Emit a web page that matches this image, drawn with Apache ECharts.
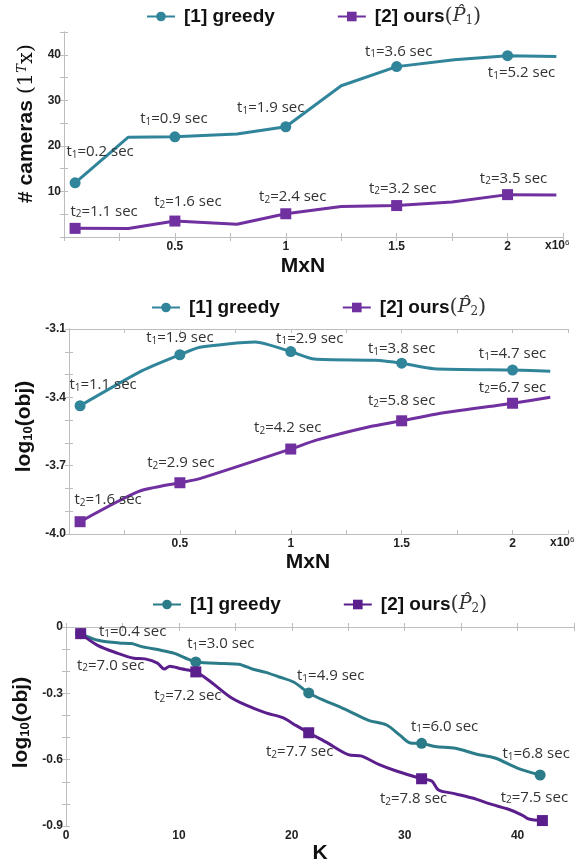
<!DOCTYPE html>
<html>
<head>
<meta charset="utf-8">
<script src="https://cdn.jsdelivr.net/npm/echarts@6/dist/echarts.min.js"></script>
<style>
  html, body { margin: 0; padding: 0; background: #fff; }
  #chart { width: 578px; height: 865px; }
</style>
</head>
<body>
<div id="chart"></div>
<script>
// panel 1: # cameras vs MxN
const greedy1X = [0.05, 0.29, 0.5, 0.78, 1.0, 1.25, 1.5, 1.76, 2.0, 2.22]
const greedy1Y = [11.9, 21.9, 22.0, 22.6, 24.2, 33.2, 37.4, 38.9, 39.8, 39.6]
const greedy1Marks = [0, 2, 4, 6, 8]
const greedy1Times = ['0.2', '0.9', '1.9', '3.6', '5.2']
const ours1X = [0.05, 0.29, 0.5, 0.78, 1.0, 1.25, 1.5, 1.75, 2.0, 2.22]
const ours1Y = [1.9, 1.85, 3.5, 2.8, 5.1, 6.7, 6.9, 7.7, 9.3, 9.2]
const ours1Marks = [0, 2, 4, 6, 8]
const ours1Times = ['1.1', '1.6', '2.4', '3.2', '3.5']

// panel 2: log10(obj) vs MxN
const greedy2X = [0.05, 0.33, 0.5, 0.59, 0.84, 1.0, 1.106, 1.38, 1.5, 1.645, 2.0, 2.17]
const greedy2Y = [-3.437, -3.283, -3.213, -3.18, -3.157, -3.199, -3.232, -3.237, -3.25, -3.274, -3.28, -3.285]
const greedy2Marks = [0, 2, 5, 8, 10]
const greedy2Times = ['1.1', '1.9', '2.9', '3.8', '4.7']
const ours2X = [0.05, 0.315, 0.5, 0.59, 1.0, 1.115, 1.35, 1.5, 1.645, 2.0, 2.17]
const ours2Y = [-3.946, -3.813, -3.775, -3.757, -3.627, -3.588, -3.53, -3.503, -3.475, -3.426, -3.4]
const ours2Marks = [0, 2, 4, 7, 9]
const ours2Times = ['1.6', '2.9', '4.2', '5.8', '6.7']

// panel 3: log10(obj) vs K
const greedy3X = [1.3, 2.8, 4.7, 5.8, 6.8, 8.4, 9.6, 10.8, 11.5, 14.0, 15.3, 16.5, 17.7, 18.9, 20.2, 21.5, 23.0, 24.2, 25.1, 26.8, 28.4, 29.6, 30.5, 31.5, 32.7, 34.5, 36.3, 38.0, 40.1, 42.0]
const greedy3Y = [-0.03, -0.06, -0.072, -0.075, -0.09, -0.105, -0.119, -0.145, -0.158, -0.165, -0.168, -0.19, -0.205, -0.226, -0.25, -0.298, -0.335, -0.36, -0.381, -0.422, -0.443, -0.49, -0.524, -0.526, -0.54, -0.548, -0.574, -0.592, -0.64, -0.669]
const greedy3Marks = [0, 8, 15, 23, 29]
const greedy3Times = ['0.4', '3.0', '4.9', '6.0', '6.8']
const ours3X = [1.3, 2.8, 4.6, 6.0, 7.0, 8.1, 8.7, 9.2, 10.2, 11.5, 12.7, 14.5, 15.9, 17.7, 19.2, 20.4, 21.5, 23.0, 25.0, 26.2, 27.7, 29.2, 31.5, 32.4, 33.0, 34.2, 36.0, 37.7, 39.2, 40.4, 41.0, 42.2]
const ours3Y = [-0.03, -0.083, -0.119, -0.141, -0.144, -0.163, -0.19, -0.177, -0.189, -0.203, -0.243, -0.315, -0.352, -0.388, -0.41, -0.446, -0.478, -0.519, -0.577, -0.584, -0.621, -0.65, -0.686, -0.696, -0.737, -0.751, -0.773, -0.802, -0.824, -0.85, -0.868, -0.875]
const ours3Marks = [0, 9, 16, 22, 31]
const ours3Times = ['7.0', '7.2', '7.7', '7.8', '7.5']

// tick labels shown on each axis
const xTicks1 = [0.5, 1, 1.5, 2]
const yTicks1 = [10, 20, 30, 40]
const xTicks2 = [0.5, 1, 1.5, 2]
const yTicks2 = [-3.1, -3.4, -3.7, -4.0]
const xTicks3 = [0, 10, 20, 30, 40]
const yTicks3 = [0, -0.3, -0.6, -0.9]

// label offsets (px) for the time annotations
const offG1 = [[25, -31], [-1, -18], [-15, -19], [2, -15], [14, 17]]
const offO1 = [[29, -17], [13, -19], [7, -17], [6, -17], [6, -16]]
const offG2 = [[23, -21], [0, -17], [19, -13], [0, -14], [0, -16]]
const offO2 = [[28, -22], [1, -20], [-3, -21], [0, -20], [0, -16]]
const offG3 = [[52, -2], [25, -18], [22, -17], [23, -17], [-4, -21]]
const offO3 = [[30, 32], [-8, 24], [-9, 19], [-8, 20], [-8, -23]]

const TEAL = '#31859b'
const PURPLE = '#7030a0'
const TEAL3 = '#2b7c88'
const PURPLE3 = '#5a1f8c'

const sansFont = '"Liberation Sans", Arial, sans-serif'
const labelFont = '"Open Sans", sans-serif'
const mathFont = '"DejaVu Serif", serif'

const labelRich = {
    t: { fontFamily: labelFont, fontSize: 15, color: '#333' },
    s: { fontFamily: labelFont, fontSize: 10, color: '#333', verticalAlign: 'bottom', padding: [6, 0, 0, 0] }
}

function hasTick(list, v) {
    return list.some(t => Math.abs(t - v) < 1e-6)
}

function makeSeries(name, xs, ys, marks, times, sub, offsets, color, symbol, idx, smooth) {
    const data = xs.map((x, i) => {
        const k = marks.indexOf(i)
        if (k < 0) {
            return { value: [x, ys[i]], symbol: 'none' }
        }
        return {
            value: [x, ys[i]],
            label: {
                show: true,
                position: 'inside',
                offset: offsets[k],
                formatter: '{t|t}{s|' + sub + '}{t|=' + times[k] + ' sec}',
                rich: labelRich
            }
        }
    })
    return {
        name: name,
        type: 'line',
        xAxisIndex: idx * 2,
        yAxisIndex: idx * 2,
        data: data,
        smooth: smooth,
        symbol: symbol,
        symbolSize: 11,
        showAllSymbol: true,
        lineStyle: { color: color, width: 3 },
        itemStyle: { color: color },
        label: { show: false },
        emphasis: { disabled: true },
        z: symbol === 'rect' ? 3 : 2
    }
}

const grids = [
    { left: 64, right: 15, top: 32, height: 205 },
    { left: 69, right: 10, top: 329, height: 205 },
    { left: 66, right: 4, top: 627, height: 216 }
]

const axisLineStyle = { lineStyle: { color: '#bdbdbd', width: 1 } }
const tickStyle = { show: true, inside: true, length: 4, lineStyle: { color: '#bdbdbd' } }
const tickLabelStyle = { fontFamily: sansFont, fontWeight: 'bold', fontSize: 12, color: '#222' }

function xAxes(idx, min, max, interval, ticks, fmt, name, gap, pad) {
    return [
        {
            type: 'value', gridIndex: idx, min: min, max: max, interval: interval, position: 'bottom',
            axisLine: axisLineStyle, axisTick: tickStyle, splitLine: { show: false },
            axisLabel: Object.assign({ margin: 4, formatter: v => (hasTick(ticks, v) ? fmt(v) : '') }, tickLabelStyle),
            name: name, nameLocation: 'middle', nameGap: gap,
            nameTextStyle: { fontFamily: sansFont, fontWeight: 'bold', fontSize: 21, color: '#111', padding: pad }
        },
        {
            type: 'value', gridIndex: idx, min: min, max: max, interval: interval, position: 'top',
            axisLine: axisLineStyle, axisTick: tickStyle, splitLine: { show: false }, axisLabel: { show: false }
        }
    ]
}

function yAxes(idx, min, max, interval, ticks, fmt, name, gap, pad) {
    return [
        {
            type: 'value', gridIndex: idx, min: min, max: max, interval: interval, position: 'left',
            axisLine: Object.assign({ show: true }, axisLineStyle), axisTick: tickStyle, splitLine: { show: false },
            axisLabel: Object.assign({ margin: 3, formatter: v => (hasTick(ticks, v) ? fmt(v) : '') }, tickLabelStyle),
            name: name, nameLocation: 'middle', nameRotate: 90, nameGap: gap,
            nameTextStyle: {
                padding: pad,
                rich: {
                    a: { fontFamily: sansFont, fontWeight: 'bold', fontSize: 21, color: '#111' },
                    sub: { fontFamily: sansFont, fontWeight: 'bold', fontSize: 13, color: '#111', verticalAlign: 'bottom', padding: [8, 0, 0, 0] },
                    m: { fontFamily: mathFont, fontSize: 21, color: '#111' },
                    sup: { fontFamily: mathFont, fontStyle: 'italic', fontSize: 13, color: '#111', verticalAlign: 'top', padding: [0, 0, 8, 0] }
                }
            }
        },
        {
            type: 'value', gridIndex: idx, min: min, max: max, interval: interval, position: 'right',
            axisLine: Object.assign({ show: true }, axisLineStyle), axisTick: tickStyle, splitLine: { show: false },
            axisLabel: { show: false }
        }
    ]
}

const fmtPlain = v => String(+v.toFixed(2))
const fmtOne = v => (Math.abs(v) < 1e-9 ? '0' : v.toFixed(1))

const legendText = {
    g1: '{b|[1] greedy}',
    o1: '{b|[2] ours}{p|(}{i|P̂}{s|1}{p|)}',
    g2: '{b|[1] greedy}',
    o2: '{b|[2] ours}{p|(}{i|P̂}{s|2}{p|)}',
    g3: '{b|[1] greedy}',
    o3: '{b|[2] ours}{p|(}{i|P̂}{s|2}{p|)}'
}

const legendRich = {
    b: { fontFamily: sansFont, fontWeight: 'bold', fontSize: 19, color: '#111', padding: [0, 0, 0, 4] },
    p: { fontFamily: mathFont, fontSize: 21, color: '#333' },
    i: { fontFamily: mathFont, fontStyle: 'italic', fontSize: 19, color: '#333' },
    s: { fontFamily: mathFont, fontSize: 12, color: '#333', verticalAlign: 'bottom', padding: [6, 0, 0, 0] }
}

function makeLegend(names, left, top) {
    return {
        data: names, left: left, top: top, itemWidth: 28, itemHeight: 12, itemGap: 62,
        selectedMode: false,
        formatter: n => legendText[n],
        textStyle: { rich: legendRich }
    }
}

const chart = echarts.init(document.getElementById('chart'), null, { renderer: 'canvas' })

const option = {
    backgroundColor: '#fff',
    animation: false,
    grid: grids,
    legend: [
        makeLegend(['g1', 'o1'], 141, 1),
        makeLegend(['g2', 'o2'], 146, 292),
        makeLegend(['g3', 'o3'], 147, 589)
    ],
    xAxis: [].concat(
        xAxes(0, 0, 2.25, 0.25, xTicks1, fmtPlain, 'MxN', 19, [0, 21, 0, 0]),
        xAxes(1, 0, 2.25, 0.25, xTicks2, fmtPlain, 'MxN', 18, [0, 21, 0, 0]),
        xAxes(2, 0, 45, 5, xTicks3, fmtPlain, 'K', 5, [0, 0, 0, 0])
    ),
    yAxis: [].concat(
        yAxes(0, 0, 45, 5, yTicks1, fmtPlain, '{a|# cameras }{m|(1}{sup|T}{m|x)}', 26, [0, 0, 0, 22]),
        yAxes(1, -4.0, -3.1, 0.1, yTicks2, fmtOne, '{a|log}{sub|10}{a|(obj)}', 33, [0, 0, 0, 10]),
        yAxes(2, -0.9, 0, 0.1, yTicks3, fmtOne, '{a|log}{sub|10}{a|(obj)}', 34, [0, 0, 0, 8])
    ),
    series: [
        makeSeries('g1', greedy1X, greedy1Y, greedy1Marks, greedy1Times, '1', offG1, TEAL, 'circle', 0, false),
        makeSeries('o1', ours1X, ours1Y, ours1Marks, ours1Times, '2', offO1, PURPLE, 'rect', 0, false),
        makeSeries('g2', greedy2X, greedy2Y, greedy2Marks, greedy2Times, '1', offG2, TEAL, 'circle', 1, 0.2),
        makeSeries('o2', ours2X, ours2Y, ours2Marks, ours2Times, '2', offO2, PURPLE, 'rect', 1, 0.2),
        makeSeries('g3', greedy3X, greedy3Y, greedy3Marks, greedy3Times, '1', offG3, TEAL3, 'circle', 2, 0.3),
        makeSeries('o3', ours3X, ours3Y, ours3Marks, ours3Times, '2', offO3, PURPLE3, 'rect', 2, 0.3)
    ],
    graphic: [
        {
            type: 'text', left: 545, top: 239,
            style: { text: '{a|x10}{b|6}', rich: {
                a: { fontFamily: sansFont, fontWeight: 'bold', fontSize: 12, fill: '#222' },
                b: { fontFamily: sansFont, fontSize: 8, fill: '#222', verticalAlign: 'top', padding: [0, 0, 6, 0] }
            } }
        },
        {
            type: 'text', left: 550, top: 536,
            style: { text: '{a|x10}{b|6}', rich: {
                a: { fontFamily: sansFont, fontWeight: 'bold', fontSize: 12, fill: '#222' },
                b: { fontFamily: sansFont, fontSize: 8, fill: '#222', verticalAlign: 'top', padding: [0, 0, 6, 0] }
            } }
        }
    ]
}

chart.setOption(option)
</script>
</body>
</html>
